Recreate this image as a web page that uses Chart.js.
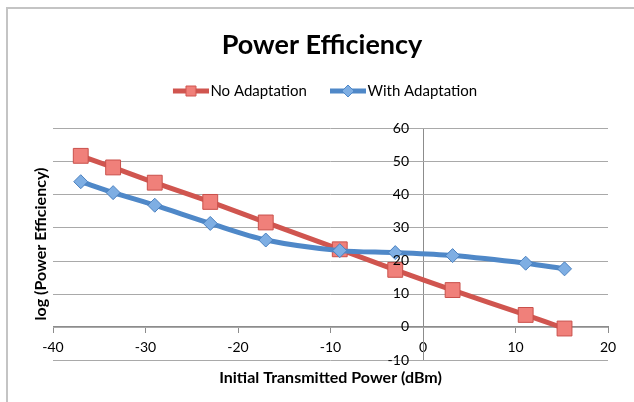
<!DOCTYPE html>
<html>
<head>
<meta charset="utf-8">
<script src="https://cdn.jsdelivr.net/npm/chart.js@4/dist/chart.umd.min.js"></script>
<style>
  body { margin: 0; background: #fff; }
  #wrap { position: relative; width: 634px; height: 402px; overflow: hidden; }
  #frame { position: absolute; left: 6px; top: 7px; width: 700px; height: 500px;
           border-left: 2px solid #c4c4c4; border-top: 2px solid #c4c4c4; }
  #powerChart { position: absolute; left: 0; top: 0; z-index: 1; }
</style>
</head>
<body>
<div id="wrap">
  <div id="frame"></div>
  <canvas id="powerChart" width="634" height="402"></canvas>
</div>
<script>
// values
const txPower = [-37, -33.5, -29, -23, -17, -9, -3, 3.2, 11.1, 15.3];
const noAdaptation = [51.6, 48.1, 43.5, 37.7, 31.5, 23.4, 17.2, 11.1, 3.6, -0.5];
const withAdaptation = [43.8, 40.5, 36.7, 31.2, 26.2, 23.0, 22.4, 21.5, 19.2, 17.5];
const yTicks = [-10, 0, 10, 20, 30, 40, 50, 60];
const xRange = [-40, 20];
const yRange = [-10, 60];
const tickStep = 10;

const redLine = '#d0554f';
const redFill = '#f0807a';
const blueLine = '#4f88c8';
const blueFill = '#7eaee3';
const fontFamily = "Lato, 'Open Sans', sans-serif";

Chart.defaults.font.family = fontFamily;
Chart.defaults.color = '#000';

// little line+marker picture for the legend, like excel does
function swatch(line, fill, shape) {
    const c = document.createElement('canvas');
    c.width = 48; c.height = 18;
    const g = c.getContext('2d');
    g.strokeStyle = line;
    g.lineWidth = 5;
    g.beginPath(); g.moveTo(12, 9); g.lineTo(48, 9); g.stroke();
    g.fillStyle = fill;
    g.strokeStyle = line;
    g.lineWidth = 1;
    g.beginPath();
    if (shape === 'rect') {
        g.rect(25, 4, 10, 10);
    } else {
        g.moveTo(30, 3); g.lineTo(36, 9); g.lineTo(30, 15); g.lineTo(24, 9); g.closePath();
    }
    g.fill(); g.stroke();
    return c;
}
const swatches = [swatch(redLine, redFill, 'rect'), swatch(blueLine, blueFill, 'diamond')];

// y axis crosses at x=0: gridlines and labels placed with the chart's own scales
const yAxisAtZero = {
    id: 'yAxisAtZero',
    beforeDatasetsDraw(chart) {
        const {ctx, chartArea, scales} = chart;
        ctx.save();
        ctx.strokeStyle = '#a9a9a9';
        ctx.lineWidth = 1;
        yTicks.forEach(v => {
            const py = Math.round(scales.y.getPixelForValue(v)) + 0.5;
            ctx.beginPath();
            ctx.moveTo(chartArea.left, py);
            ctx.lineTo(chartArea.right, py);
            ctx.stroke();
        });
        ctx.restore();
    },
    afterDatasetsDraw(chart) {
        const {ctx, scales} = chart;
        const x0 = scales.x.getPixelForValue(0);
        ctx.save();
        ctx.font = '14px ' + fontFamily;
        ctx.fillStyle = '#000';
        ctx.textAlign = 'right';
        ctx.textBaseline = 'middle';
        yTicks.forEach(v => {
            ctx.fillText(String(v), x0 - 14, scales.y.getPixelForValue(v));
        });
        ctx.restore();
    }
};

const data = {
    datasets: [{
        label: 'No Adaptation',
        data: txPower.map((x, i) => ({x: x, y: noAdaptation[i]})),
        borderColor: redLine,
        backgroundColor: redFill,
        borderWidth: 5,
        tension: 0.3,
        fill: false,
        pointStyle: 'rect',
        pointRadius: 10.5,
        pointBorderWidth: 1,
        pointBorderColor: '#c9504b',
        pointBackgroundColor: redFill,
        order: 1
    }, {
        label: 'With Adaptation',
        data: txPower.map((x, i) => ({x: x, y: withAdaptation[i]})),
        borderColor: blueLine,
        backgroundColor: blueFill,
        borderWidth: 5,
        tension: 0.3,
        fill: false,
        pointStyle: 'rectRot',
        pointRadius: 7,
        pointBorderWidth: 1,
        pointBorderColor: '#4a80bf',
        pointBackgroundColor: blueFill,
        order: 0
    }]
};

const config = {
    type: 'line',
    data: data,
    plugins: [yAxisAtZero],
    options: {
        responsive: false,
        animation: false,
        layout: {
            padding: {left: 10, right: 0, top: 0, bottom: 0}
        },
        plugins: {
            title: {
                display: true,
                text: 'Power Efficiency',
                font: {size: 27, weight: 'bold'},
                padding: {top: 28.8, bottom: 5.3}
            },
            legend: {
                position: 'top',
                labels: {
                    usePointStyle: true,
                    pointStyleWidth: 36,
                    padding: 17,
                    font: {size: 15},
                    sort: (a, b) => a.datasetIndex - b.datasetIndex,
                    generateLabels: function(chart) {
                        const items = Chart.defaults.plugins.legend.labels.generateLabels(chart);
                        return items.map(item => Object.assign(item, {
                            pointStyle: swatches[item.datasetIndex],
                            rotation: 0
                        }));
                    }
                }
            },
            tooltip: {enabled: false}
        },
        scales: {
            x: {
                type: 'linear',
                position: {y: 0},
                min: xRange[0],
                max: xRange[1],
                ticks: {stepSize: tickStep, padding: 6, font: {size: 14}},
                grid: {drawOnChartArea: false, drawTicks: true, tickLength: 6, color: '#8c8c8c'},
                border: {display: true, color: '#8c8c8c'}
            },
            y: {
                type: 'linear',
                position: {x: 0},
                min: yRange[0],
                max: yRange[1],
                ticks: {display: false, stepSize: tickStep},
                grid: {display: false, drawTicks: false},
                border: {display: true, color: '#8c8c8c'}
            },
            // empty axes below only hold the titles and the spacing
            xTitle: {
                type: 'linear', axis: 'x', position: 'bottom',
                min: xRange[0], max: xRange[1],
                ticks: {display: false},
                grid: {display: false, drawTicks: false},
                border: {display: false},
                title: {display: true, text: 'Initial Transmitted Power (dBm)',
                        font: {size: 16, weight: 'bold'}, padding: {top: 8.4, bottom: 14.4}}
            },
            yTitle: {
                type: 'linear', axis: 'y', position: 'left',
                min: yRange[0], max: yRange[1],
                ticks: {display: false},
                grid: {display: false, drawTicks: false},
                border: {display: false},
                title: {display: true, text: 'log (Power Efficiency)',
                        font: {size: 16, weight: 'bold'}, padding: {top: 21.4, bottom: 2.4}}
            },
            xGap: {
                type: 'linear', axis: 'x', position: 'top',
                min: xRange[0], max: xRange[1],
                ticks: {display: false},
                grid: {display: false, drawTicks: true, tickLength: 19.5},
                border: {display: false}
            },
            yGap: {
                type: 'linear', axis: 'y', position: 'right',
                min: yRange[0], max: yRange[1],
                ticks: {display: false},
                grid: {display: false, drawTicks: true, tickLength: 26},
                border: {display: false}
            }
        }
    }
};

const powerChart = new Chart(document.getElementById('powerChart'), config);
</script>
</body>
</html>
